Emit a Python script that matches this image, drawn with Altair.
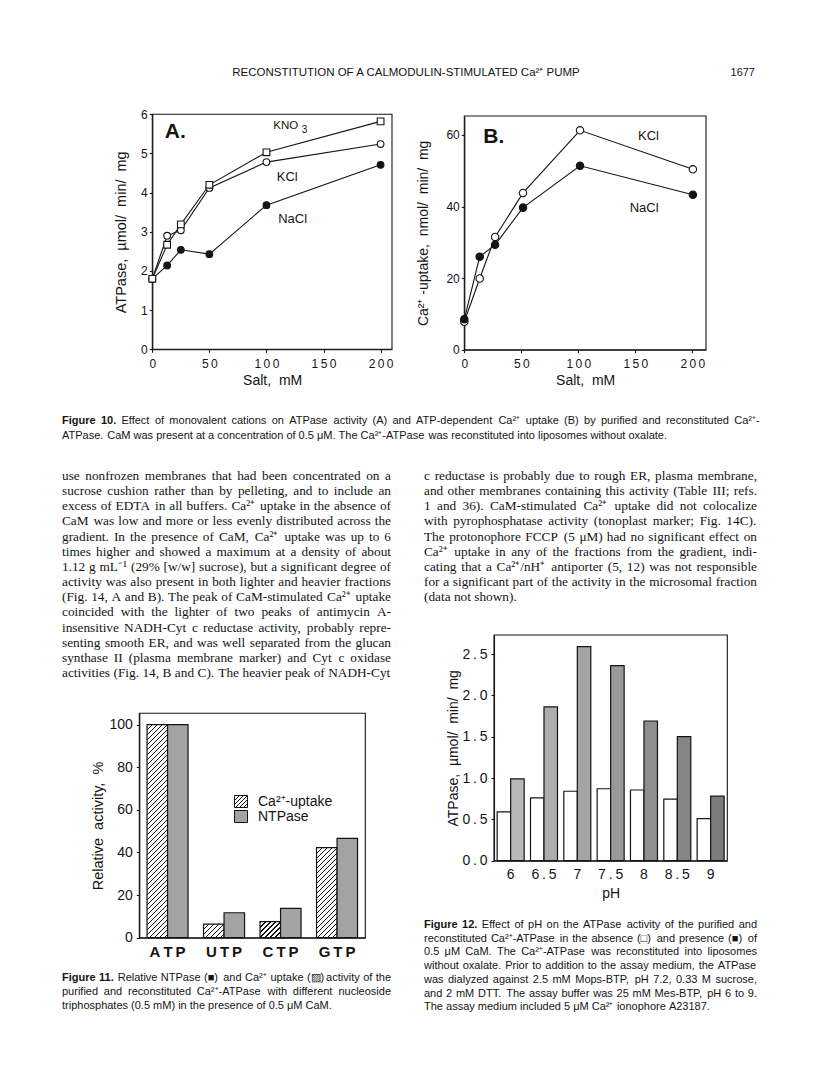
import altair as alt
import pandas as pd

MARGIN = 8
PAGE_W, PAGE_H = 800, 1057
INK = "#141414"
SANS = "Liberation Sans"
SERIF = "Liberation Serif"
THIN = "\u2009"
NB = "\u00a0 "
SPACED = "join(split(datum.label, ''), '" + THIN + "')"
GRAY11 = "#a3a3a3"
GRAYS12 = ["#b8b8b8", "#adadad", "#a3a3a3", "#999999", "#8f8f8f", "#858585", "#7c7c7c"]
RECT_PATH = "M-1,-0.923L1,-0.923L1,0.923L-1,0.923Z"


def P(v):
    return v - MARGIN


# ---------------- data ----------------
# Figure 10A: ATPase activity vs salt
salt_a = [0, 13, 25, 50, 100, 200]
kno3_a = [1.80, 2.67, 3.19, 4.20, 5.03, 5.82]
kcl_a = [1.80, 2.90, 3.04, 4.12, 4.78, 5.24]
nacl_a = [1.80, 2.14, 2.54, 2.43, 3.68, 4.71]
ticks_a_x = [0, 50, 100, 150, 200]
ticks_a_y = [0, 1, 2, 3, 4, 5, 6]

# Figure 10B: Ca2+ uptake vs salt
salt_b = [0, 13.5, 27, 51.5, 101.5, 200.5]
kcl_b = [7.8, 19.9, 31.5, 43.8, 61.3, 50.4]
nacl_b = [8.5, 26.0, 29.3, 39.7, 51.4, 43.3]
ticks_b_x = [0, 50, 100, 150, 200]
ticks_b_y = [0, 20, 40, 60]

# Figure 11: relative activity per nucleotide
nucleotides = ["ATP", "UTP", "CTP", "GTP"]
ca_uptake = [100, 6.4, 7.5, 42.3]
ntpase = [100, 11.7, 13.8, 46.6]
legend11 = ["Ca²⁺-uptake", "NTPase"]
ticks_11_y = [0, 20, 40, 60, 80, 100]

# Figure 12: ATPase vs pH
ph_values = ["6", "6.5", "7", "7.5", "8", "8.5", "9"]
atpase_minus_cam = [0.59, 0.76, 0.84, 0.87, 0.855, 0.745, 0.51]
atpase_plus_cam = [0.99, 1.86, 2.59, 2.36, 1.69, 1.50, 0.78]
ticks_12_y = [0, 0.5, 1.0, 1.5, 2.0, 2.5]

# ---------------- text ----------------
header = ["RECONSTITUTION OF A CALMODULIN-STIMULATED Ca²⁺ PUMP"]
page_no = ["1677"]
fig10_caption = [
    "Figure 10. Effect of monovalent cations on ATPase activity (A) and ATP-dependent Ca²⁺ uptake (B) by purified and reconstituted Ca²⁺-",
    "ATPase. CaM was present at a concentration of 0.5 μM. The Ca²⁺-ATPase was reconstituted into liposomes without oxalate.",
]
body_left = [
    "use nonfrozen membranes that had been concentrated on a",
    "sucrose cushion rather than by pelleting, and to include an",
    "excess of EDTA in all buffers. Ca²⁺ uptake in the absence of",
    "CaM was low and more or less evenly distributed across the",
    "gradient. In the presence of CaM, Ca²⁺ uptake was up to 6",
    "times higher and showed a maximum at a density of about",
    "1.12 g mL⁻¹ (29% [w/w] sucrose), but a significant degree of",
    "activity was also present in both lighter and heavier fractions",
    "(Fig. 14, A and B). The peak of CaM-stimulated Ca²⁺ uptake",
    "coincided with the lighter of two peaks of antimycin A-",
    "insensitive NADH-Cyt c reductase activity, probably repre-",
    "senting smooth ER, and was well separated from the glucan",
    "synthase II (plasma membrane marker) and Cyt c oxidase",
    "activities (Fig. 14, B and C). The heavier peak of NADH-Cyt",
]
body_right = [
    "c reductase is probably due to rough ER, plasma membrane,",
    "and other membranes containing this activity (Table III; refs.",
    "1 and 36). CaM-stimulated Ca²⁺ uptake did not colocalize",
    "with pyrophosphatase activity (tonoplast marker; Fig. 14C).",
    "The protonophore FCCP (5 μM) had no significant effect on",
    "Ca²⁺ uptake in any of the fractions from the gradient, indi-",
    "cating that a Ca²⁺/nH⁺ antiporter (5, 12) was not responsible",
    "for a significant part of the activity in the microsomal fraction",
    "(data not shown).",
]
fig11_caption = [
    "Figure 11. Relative NTPase (■) and Ca²⁺ uptake (▨) activity of the",
    "purified and reconstituted Ca²⁺-ATPase with different nucleoside",
    "triphosphates (0.5 mM) in the presence of 0.5 μM CaM.",
]
fig12_caption = [
    "Figure 12. Effect of pH on the ATPase activity of the purified and",
    "reconstituted Ca²⁺-ATPase in the absence (□) and presence (■) of",
    "0.5 μM CaM. The Ca²⁺-ATPase was reconstituted into liposomes",
    "without oxalate. Prior to addition to the assay medium, the ATPase",
    "was dialyzed against 2.5 mM Mops-BTP, pH 7.2, 0.33 M sucrose,",
    "and 2 mM DTT. The assay buffer was 25 mM Mes-BTP, pH 6 to 9.",
    "The assay medium included 5 μM Ca²⁺ ionophore A23187.",
]

# ---------------- approximate font metrics (per 1000 em) for line justification ----------------
def _table(spec, default):
    t = {}
    for group, w in spec:
        for ch in group:
            t[ch] = w
    t["_"] = default
    return t


ARIAL = _table([
    (" ,./:;[]Iftl" + "\\", 278), ("ijl", 222), ("()-r`", 333), ("²¹", 333), ("⁺⁻", 400),
    ("0123456789abdeghnopqu$#?", 556), ("cksvxyzJ", 500), ("m", 833), ("w", 722),
    ("ABEKPSVXY", 667), ("CDHNRU", 722), ("FTZ", 611), ("GOQ", 778), ("L", 556), ("M", 833),
    ("W", 944), ("%", 889), ("μµ", 576), ("■□▨", 770), ("+=<>", 584)], 556)
ARIAL_BOLD = _table([
    (" ,./:;i", 278), ("r", 389), ("f()-", 333), ("0123456789aes", 556),
    ("bdghnopqu", 611), ("F", 611)], 611)
TIMES = _table([
    (" ,.", 250), ("/:;filjt", 278), ("()-[]rIf", 333), ("²¹", 300), ("⁺⁻", 400),
    ("0123456789bdghnopquvxy", 500), ("aecz", 444), ("s", 389), ("m", 778), ("w", 722),
    ("ACDGHKNOQUVXY", 722), ("BR", 667), ("EL", 611), ("FPS", 556), ("TZ", 611), ("J", 389),
    ("M", 889), ("W", 944), ("%", 833), ("μµ", 500)], 500)


def tw(word, table, size):
    return sum(table.get(ch, table["_"]) for ch in word) * size / 1000.0


def layout_words(lines, x0, x1, table, size, ragged_last=True, bold_words=0, bold_table=None):
    rows = []
    for li, line in enumerate(lines):
        words = line.split()
        ws = []
        for wi, w in enumerate(words):
            b = li == 0 and wi < bold_words
            ws.append((w, tw(w, bold_table if b else table, size), b))
        total = sum(x[1] for x in ws)
        sp = table[" "] * size / 1000.0
        if (ragged_last and li == len(lines) - 1) or len(ws) == 1:
            gap = sp
        else:
            gap = (x1 - x0 - total) / (len(ws) - 1)
        x = x0
        for w, wd, b in ws:
            rows.append({"line": li, "w": w, "x": P(x), "bold": b})
            x += wd + gap
    return pd.DataFrame(rows)


def text_block(lines, x0, x1, y_first, dy, size, font, table, ragged_last=True,
               bold_words=0, bold_table=None):
    df = layout_words(lines, x0, x1, table, size, ragged_last, bold_words, bold_table)
    n = max(len(lines) - 1, 1)
    ys = alt.Scale(domain=[0, n], range=[P(y_first), P(y_first + dy * n)], nice=False, zero=False)
    xs = alt.Scale(domain=[0, PAGE_W], range=[0, PAGE_W], nice=False, zero=False)
    out = []
    for flag, weight in ((False, "normal"), (True, "bold")):
        if not (df["bold"] == flag).any():
            continue
        out.append(
            alt.Chart(df).transform_filter(alt.datum.bold == flag).mark_text(
                align="left", baseline="middle", font=font, fontSize=size,
                fontWeight=weight, color=INK
            ).encode(
                x=alt.X("x:Q", scale=xs, axis=None),
                y=alt.Y("line:Q", scale=ys, axis=None),
                text="w:N",
            )
        )
    return out


def text_line(lines, x_page, y_page, size, align):
    df = pd.DataFrame({"t": lines})
    return alt.Chart(df).mark_text(
        align=align, baseline="middle", font=SANS, fontSize=size, color=INK
    ).encode(x=alt.value(P(x_page)), y=alt.value(P(y_page)), text="t:N")


# ---------------- axes / marks helpers ----------------
def axis_left(x_page, values, title, label_size=12, title_size=13, title_pad=10,
              label_pad=3, tick=3, fmt=None, expr=None):
    kw = dict(orient="left", offset=-P(x_page), values=values, title=title, grid=False,
              domainColor=INK, domainWidth=1.1, tickColor=INK, tickWidth=1.1, tickSize=tick,
              labelColor=INK, labelFont=SANS, labelFontSize=label_size, labelPadding=label_pad,
              labelFlush=False, labelOverlap=False, titleColor=INK, titleFont=SANS,
              titleFontSize=title_size, titleFontWeight="normal", titlePadding=title_pad)
    if fmt:
        kw["format"] = fmt
    if expr:
        kw["labelExpr"] = expr
    return alt.Axis(**kw)


def axis_bottom(y_page, title, values=None, label_size=12, title_size=13, title_pad=5,
                label_pad=6, tick=3, expr=None, bold=False):
    kw = dict(orient="bottom", offset=P(y_page) - PAGE_H, title=title, grid=False,
              domainColor=INK, domainWidth=1.1, labelColor=INK, labelFont=SANS,
              labelFontSize=label_size, labelPadding=label_pad, labelAngle=0,
              labelFlush=False, labelOverlap=False, titleColor=INK, titleFont=SANS,
              titleFontSize=title_size, titleFontWeight="normal", titlePadding=title_pad)
    if values is not None:
        kw["values"] = values
    if tick > 0:
        kw.update(ticks=True, tickSize=tick, tickColor=INK, tickWidth=1.1)
    else:
        kw.update(ticks=False, tickSize=0)
    if expr:
        kw["labelExpr"] = expr
    if bold:
        kw["labelFontWeight"] = "bold"
    return alt.Axis(**kw)


def hatch(w, h, period=5.0, line=1.3):
    s = w + h
    lam = s / (w * w + h * h)
    stops = []
    k = 0
    while k * period < s:
        a = k * period / s
        b = min((k * period + line) / s, 1.0)
        nxt = min((k + 1) * period / s, 1.0)
        stops += [
            {"offset": a, "color": INK},
            {"offset": b, "color": INK},
            {"offset": b, "color": "#ffffff"},
            {"offset": nxt, "color": "#ffffff"},
        ]
        k += 1
    return {"gradient": "linear", "x1": 0, "y1": 0, "x2": w * lam, "y2": h * lam, "stops": stops}


def frame(x0, x1, y0, y1):
    return alt.Chart(pd.DataFrame({"k": [0]})).mark_rect(
        fillOpacity=0, stroke=INK, strokeWidth=1.1
    ).encode(
        x=alt.XDatum(0, scale=alt.Scale(domain=[0, 1], range=[P(x0), P(x1)]), axis=None),
        x2=alt.X2Datum(1),
        y=alt.YDatum(0, scale=alt.Scale(domain=[0, 1], range=[P(y1), P(y0)]), axis=None),
        y2=alt.Y2Datum(1),
    )


def line_panel(salt, series, styles, xs, ys, xax, yax, notes):
    rows = []
    for name, vals in series.items():
        for s, v in zip(salt, vals):
            rows.append({"salt": s, "v": v, "series": name})
    df = pd.DataFrame(rows)
    base = alt.Chart(df)
    layers = [
        base.mark_line(color=INK, strokeWidth=1.1).encode(
            x=alt.X("salt:Q", scale=xs, axis=xax),
            y=alt.Y("v:Q", scale=ys, axis=yax),
            detail="series:N",
        )
    ]
    for name, (shape, fill, size) in styles.items():
        layers.append(
            base.transform_filter(alt.datum.series == name).mark_point(
                shape=shape, filled=True, fill=fill, stroke=INK, strokeWidth=1.1,
                size=size, opacity=1
            ).encode(
                x=alt.X("salt:Q", scale=xs, axis=xax),
                y=alt.Y("v:Q", scale=ys, axis=yax),
            )
        )
    for (t, xv, yv, sz, wt) in notes:
        layers.append(
            alt.Chart(pd.DataFrame({"k": [0]})).mark_text(
                text=t, align="left", baseline="middle", font=SANS, fontSize=sz,
                fontWeight=wt, color=INK
            ).encode(
                x=alt.XDatum(xv, scale=xs, axis=xax),
                y=alt.YDatum(yv, scale=ys, axis=yax),
            )
        )
    return alt.layer(*layers)


# ---------------- Figure 10A ----------------
xs_a = alt.Scale(domain=[0, 210], range=[P(152.3), P(392)], nice=False, zero=False)
ys_a = alt.Scale(domain=[0, 6], range=[P(349.3), P(114.3)], nice=False, zero=False)
ax_a_x = axis_bottom(349.3, "Salt," + NB + "mM", values=ticks_a_x, label_size=12, title_size=14,
                     label_pad=6, title_pad=4, tick=3, expr=SPACED)
ax_a_y = axis_left(152.3, ticks_a_y, "ATPase," + NB + "µmol/" + NB + "min/" + NB + "mg",
                   label_size=12, title_size=14.5, title_pad=12, label_pad=2, tick=3)
panel_a = line_panel(
    salt_a,
    {"KNO3": kno3_a, "KCl": kcl_a, "NaCl": nacl_a},
    {"NaCl": ("circle", INK, 45), "KCl": ("circle", "#ffffff", 45), "KNO3": ("square", "#ffffff", 45)},
    xs_a, ys_a, ax_a_x, ax_a_y,
    [("A.", 11, 5.56, 21, "bold"), ("KNO", 106, 5.70, 11.5, "normal"),
     ("3", 131, 5.60, 10, "normal"), ("KCl", 109, 4.39, 13, "normal"),
     ("NaCl", 110.3, 3.32, 13, "normal")],
)

# ---------------- Figure 10B ----------------
xs_b = alt.Scale(domain=[0, 212], range=[P(464.3), P(706)], nice=False, zero=False)
ys_b = alt.Scale(domain=[0, 65.3], range=[P(349.7), P(116)], nice=False, zero=False)
ax_b_x = axis_bottom(349.7, "Salt," + NB + "mM", values=ticks_b_x, label_size=12, title_size=14,
                     label_pad=6, title_pad=4, tick=3, expr=SPACED)
ax_b_y = axis_left(464.3, ticks_b_y, "Ca²⁺ -uptake," + NB + "nmol/" + NB + "min/" + NB + "mg",
                   label_size=12, title_size=14, title_pad=15, label_pad=2, tick=3)
panel_b = line_panel(
    salt_b,
    {"KCl": kcl_b, "NaCl": nacl_b},
    {"KCl": ("circle", "#ffffff", 55), "NaCl": ("circle", INK, 55)},
    xs_b, ys_b, ax_b_x, ax_b_y,
    [("B.", 16.6, 59.5, 21, "bold"), ("KCl", 152.4, 59.8, 13, "normal"),
     ("NaCl", 145.1, 39.5, 13, "normal")],
)

# ---------------- Figure 11 ----------------
X11 = (139.3, 365.3)
Y11 = (713.3, 937.7)
PI11, PO11 = 0.274, 0.137
xs_11 = alt.Scale(domain=nucleotides, range=[P(X11[0]), P(X11[1])], paddingInner=PI11, paddingOuter=PO11)
ys_11 = alt.Scale(domain=[0, 105.3], range=[P(Y11[1]), P(Y11[0])], nice=False, zero=False)
step11 = (X11[1] - X11[0]) / (len(nucleotides) - PI11 + 2 * PO11)
barw11 = step11 * (1 - PI11) / 2
ppu11 = (Y11[1] - Y11[0]) / 105.3
df11 = pd.DataFrame({
    "nt": nucleotides * 2,
    "s": ["up"] * len(nucleotides) + ["nt"] * len(nucleotides),
    "v": ca_uptake + ntpase,
})
conds11 = [
    {"test": f"datum.s === 'up' && datum.nt === '{n}'", "value": hatch(barw11, v * ppu11)}
    for n, v in zip(nucleotides, ca_uptake)
]
bars11 = alt.Chart(df11).mark_bar(stroke=INK, strokeWidth=1.2).encode(
    x=alt.X("nt:N", scale=xs_11, sort=nucleotides,
            axis=axis_bottom(Y11[1], None, label_size=15, label_pad=7, tick=0, expr=SPACED, bold=True)),
    xOffset=alt.XOffset("s:N", scale=alt.Scale(domain=["up", "nt"])),
    y=alt.Y("v:Q", scale=ys_11,
            axis=axis_left(X11[0], ticks_11_y, "Relative" + NB + "activity," + NB + "%",
                           label_size=14, title_size=14.5, title_pad=3, label_pad=4, tick=3)),
    fill=alt.value(GRAY11, condition=conds11),
)
leg_df = pd.DataFrame({"i": [0, 1], "t": legend11})
ys_leg = alt.Scale(domain=[0, 1], range=[P(801.5), P(816.5)], nice=False, zero=False)
leg_sw = alt.Chart(leg_df).mark_point(
    shape=RECT_PATH, filled=True, stroke=INK, strokeWidth=1, size=169, opacity=1
).encode(
    x=alt.value(P(241)),
    y=alt.Y("i:Q", scale=ys_leg, axis=None),
    fill=alt.value(GRAY11, condition={"test": "datum.i === 0", "value": hatch(13, 12, 4.0, 1.2)}),
)
leg_tx = alt.Chart(leg_df).mark_text(
    align="left", baseline="middle", font=SANS, fontSize=14, color=INK
).encode(x=alt.value(P(258)), y=alt.Y("i:Q", scale=ys_leg, axis=None), text="t:N")

# ---------------- Figure 12 ----------------
X12 = (494, 727.3)
Y12 = (635, 860.7)
xs_12 = alt.Scale(domain=ph_values, range=[P(X12[0]), P(X12[1])], paddingInner=0.19, paddingOuter=0.095)
ys_12 = alt.Scale(domain=[0, 2.73], range=[P(Y12[1]), P(Y12[0])], nice=False, zero=False)
df12 = pd.DataFrame({
    "ph": ph_values * 2,
    "s": ["minus"] * len(ph_values) + ["plus"] * len(ph_values),
    "v": atpase_minus_cam + atpase_plus_cam,
})
bars12 = alt.Chart(df12).mark_bar(stroke=INK, strokeWidth=1.2).encode(
    x=alt.X("ph:N", scale=xs_12, sort=ph_values,
            axis=axis_bottom(Y12[1], "pH", label_size=14, title_size=14, label_pad=7,
                             title_pad=5, tick=0, expr=SPACED)),
    xOffset=alt.XOffset("s:N", scale=alt.Scale(domain=["minus", "plus"])),
    y=alt.Y("v:Q", scale=ys_12,
            axis=axis_left(X12[0], ticks_12_y, "ATPase," + NB + "µmol/" + NB + "min/" + NB + "mg",
                           label_size=14, title_size=14, title_pad=1, label_pad=4, tick=3,
                           fmt=".1f", expr=SPACED)),
    fill=alt.condition("datum.s === 'minus'", alt.value("#ffffff"),
                       alt.Fill("ph:N", scale=alt.Scale(domain=ph_values, range=GRAYS12), legend=None)),
)

# ---------------- text blocks ----------------
texts = [text_line(header, 406, 73, 11.5, "center"), text_line(page_no, 755, 73, 11, "right")]
texts += text_block(fig10_caption, 62, 760, 421, 14.5, 11, SANS, ARIAL, bold_words=2, bold_table=ARIAL_BOLD)
texts += text_block(body_left, 62, 391, 476, 15.15, 13.3, SERIF, TIMES, ragged_last=False)
texts += text_block(body_right, 424, 757, 476, 15.15, 13.3, SERIF, TIMES)
texts += text_block(fig11_caption, 62, 391, 978, 14.2, 11, SANS, ARIAL, bold_words=2, bold_table=ARIAL_BOLD)
texts += text_block(fig12_caption, 424, 757, 925, 13.7, 11, SANS, ARIAL, bold_words=2, bold_table=ARIAL_BOLD)

layers = [
    frame(152.3, 392, 114.3, 349.3),
    frame(464.3, 706, 116, 349.7),
    frame(X11[0], X11[1], Y11[0], Y11[1]),
    frame(X12[0], X12[1], Y12[0], Y12[1]),
    panel_a, panel_b, bars11, leg_sw, leg_tx, bars12,
] + texts

chart = alt.layer(*layers).resolve_scale(
    x="independent", y="independent", fill="independent", xOffset="independent"
).resolve_axis(
    x="independent", y="independent"
).properties(
    width=PAGE_W, height=PAGE_H, padding=0, background="white",
    autosize=alt.AutoSizeParams(type="none"),
).configure_view(stroke=None)

chart.save("out.html", embed_options={"renderer": "svg", "actions": False})
